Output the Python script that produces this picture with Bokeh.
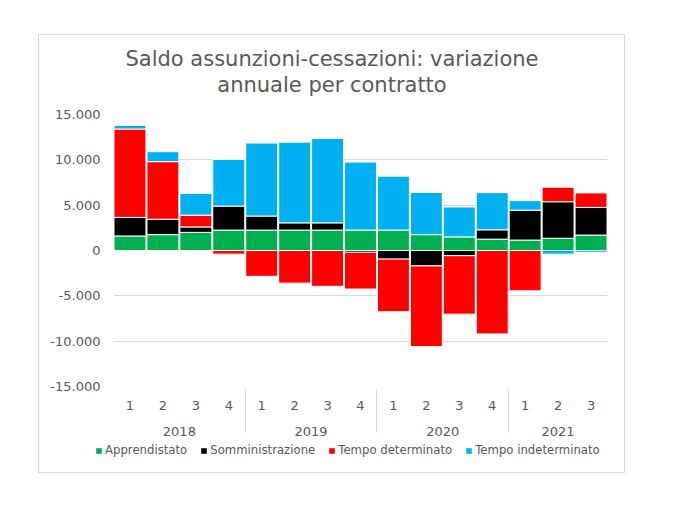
import numpy as np
from bokeh.plotting import figure
from bokeh.layouts import column
from bokeh.models import (ColumnDataSource, FactorRange, FixedTicker, Legend,
                          LegendItem, Title, Range1d)
from bokeh.embed import file_html
from bokeh.resources import INLINE

# ---- data ----
years = ["2018"] * 4 + ["2019"] * 4 + ["2020"] * 4 + ["2021"] * 3
quarters = ["1", "2", "3", "4"] * 3 + ["1", "2", "3"]

apprendistato = [1600, 1750, 2000, 2250, 2250, 2250, 2250, 2250, 2250, 1750, 1500, 1250, 1150, 1350, 1700]
somministrazione = [2050, 1700, 600, 2650, 1550, 800, 800, -200, -950, -1700, -570, 1030, 3300, 4030, 3050]
tempo_determinato = [9750, 6350, 1300, -400, -2850, -3600, -3950, -4050, -5800, -8900, -6450, -9200, -4450, 1600, 1600]
tempo_indeterminato = [400, 1100, 2400, 5150, 8050, 8900, 9300, 7500, 5950, 4650, 3300, 4100, 1050, -400, -200]

series_names = ["Apprendistato", "Somministrazione", "Tempo determinato", "Tempo indeterminato"]
series_values = [apprendistato, somministrazione, tempo_determinato, tempo_indeterminato]
series_colors = ["#00B050", "#000000", "#FF0000", "#00B0F0"]

y_ticks = [-15000, -10000, -5000, 0, 5000, 10000, 15000]
y_tick_labels = ["-15.000", "-10.000", "-5.000", "0", "5.000", "10.000", "15.000"]

title_lines = ["Saldo assunzioni-cessazioni: variazione", "annuale per contratto"]

FONT = "DejaVu Sans"
TXT = "#595959"
GRID = "#d9d9d9"
W = 585

factors = list(zip(years, quarters))
x_range = FactorRange(*factors, factor_padding=0, group_padding=0, range_padding=0)


def no_align(fig):
    if "frame_align" in fig.properties():
        fig.frame_align = False


# ---- title strip ----
p0 = figure(width=W, height=70, output_backend="svg", toolbar_location=None,
            x_axis_location=None, y_axis_location=None,
            x_range=Range1d(0, 1), y_range=Range1d(0, 1),
            min_border_left=0, min_border_right=0, min_border_bottom=0,
            min_border_top=61)
no_align(p0)
p0.outline_line_color = None
p0.grid.visible = False
p0.add_layout(Title(text=title_lines[1], align="center", text_font=FONT,
                    text_font_size="21px", text_font_style="normal",
                    text_color=TXT, standoff=0), "above")
p0.add_layout(Title(text=title_lines[0], align="center", text_font=FONT,
                    text_font_size="21px", text_font_style="normal",
                    text_color=TXT, standoff=0), "above")

# ---- main chart ----
p = figure(
    x_range=x_range,
    y_range=Range1d(-15000, 15000),
    width=W, height=335,
    output_backend="svg", toolbar_location=None,
    min_border_left=74, min_border_right=17, min_border_top=9, min_border_bottom=54,
)

pos_base = np.zeros(len(factors))
neg_base = np.zeros(len(factors))
sources = []
for name, vals, col in zip(series_names, series_values, series_colors):
    v = np.array(vals, dtype=float)
    bottom = np.where(v >= 0, pos_base, neg_base)
    top = bottom + v
    pos_base = np.where(v >= 0, top, pos_base)
    neg_base = np.where(v < 0, top, neg_base)
    src = ColumnDataSource(dict(x=factors, bottom=bottom, top=top))
    sources.append(src)
    p.vbar(x="x", bottom="bottom", top="top", width=0.97, source=src,
           fill_color=col, line_color="white", line_width=1)

p.yaxis.ticker = FixedTicker(ticks=y_ticks)
p.yaxis.major_label_overrides = {t: l for t, l in zip(y_ticks, y_tick_labels)}
p.yaxis.axis_line_color = None
p.yaxis.major_tick_line_color = None
p.yaxis.minor_tick_line_color = None
p.yaxis.major_tick_out = 0
p.yaxis.minor_tick_out = 0
p.yaxis.major_label_text_font = FONT
p.yaxis.major_label_text_font_size = "13px"
p.yaxis.major_label_text_color = TXT
p.yaxis.major_label_standoff = 13

p.ygrid.grid_line_color = GRID
p.xgrid.grid_line_color = None
p.outline_line_color = None

xa = p.xaxis[0]
xa.axis_line_color = None
xa.major_tick_line_color = None
xa.major_tick_out = 0
xa.major_label_text_font = FONT
xa.major_label_text_font_size = "13px"
xa.major_label_text_color = TXT
xa.major_label_standoff = 14
xa.group_text_font = FONT
xa.group_text_font_size = "13px"
xa.group_text_font_style = "normal"
xa.group_text_color = TXT
xa.separator_line_color = GRID
xa.separator_line_width = 1

# ---- legend strip (same series, value window kept empty so only the legend shows) ----
p2 = figure(width=W, height=32, output_backend="svg", toolbar_location=None,
            x_axis_location=None, y_axis_location=None,
            x_range=x_range, y_range=Range1d(50000, 60000),
            min_border_left=0, min_border_right=0, min_border_bottom=0,
            min_border_top=0)
no_align(p2)
p2.outline_line_color = None
p2.grid.visible = False
items = []
for name, col, src in zip(series_names, series_colors, sources):
    r = p2.vbar(x="x", bottom="bottom", top="top", width=0.97, source=src,
                fill_color=col, line_color=None)
    items.append(LegendItem(label=name, renderers=[r]))
legend = Legend(items=items, orientation="horizontal", location=(56, 15),
                label_text_font=FONT, label_text_font_size="11.7px",
                label_text_color=TXT, glyph_width=7, glyph_height=7,
                label_height=12, label_standoff=3, spacing=13, padding=0, margin=0,
                border_line_color=None, background_fill_alpha=0)
p2.add_layout(legend, "center")

layout = column(p0, p, p2, spacing=0, margin=(34, 0, 0, 38))
layout.styles = {"border": "1px solid #d9d9d9"}

open("out.html", "w").write(file_html(layout, INLINE))
